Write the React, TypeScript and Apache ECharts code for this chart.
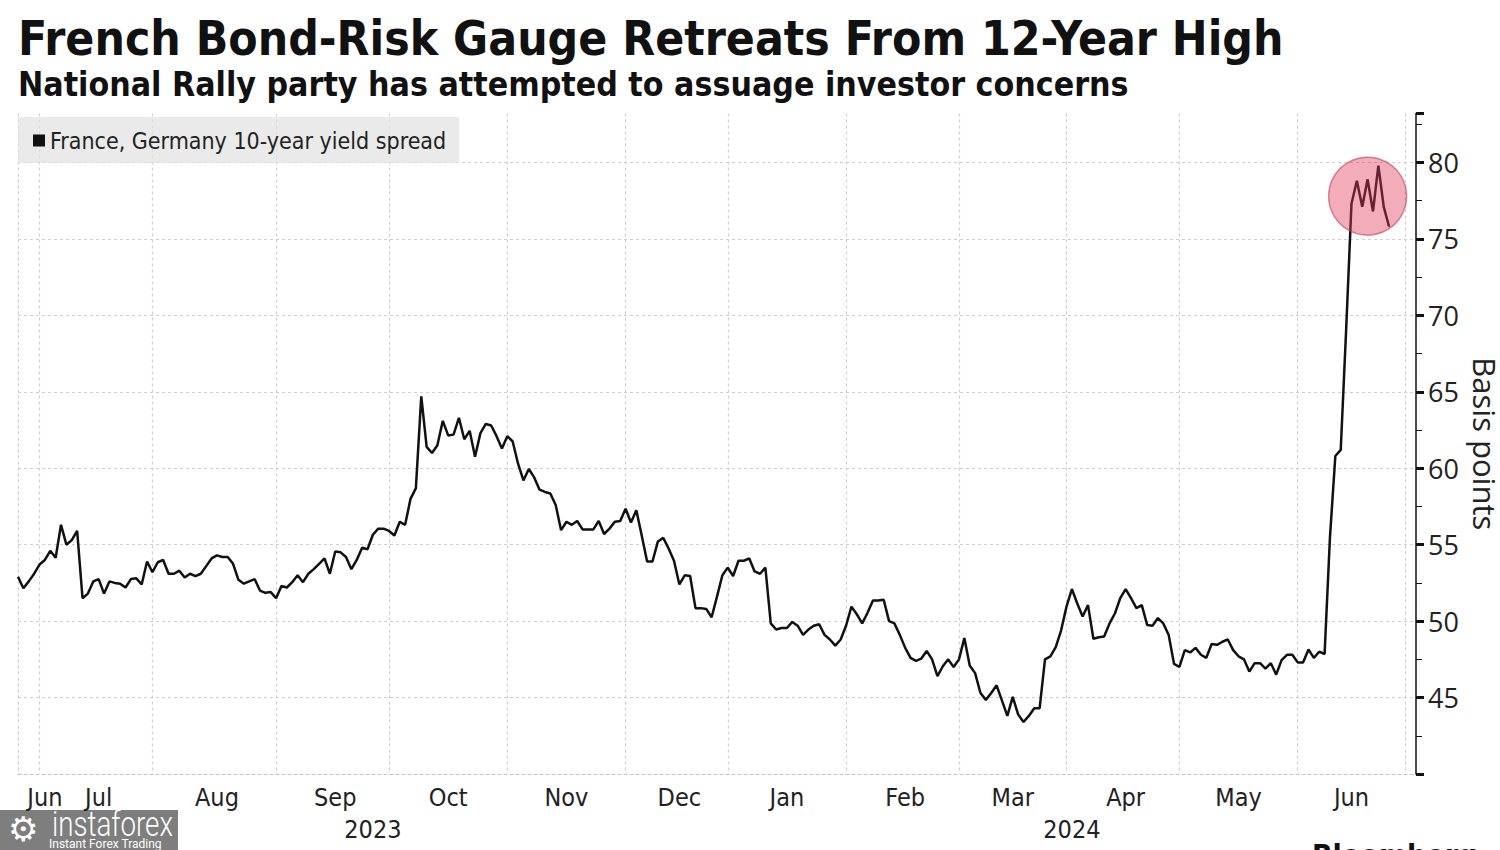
import React, { useEffect, useRef } from "react";
import * as echarts from "echarts";

// ---- data (basis points, one value per trading day) ----
const jun2023 = [52.9, 52.15, 52.6, 53.1];
const jul2023 = [53.7, 54.0, 54.6, 54.15, 56.3, 55.0, 55.3, 55.9, 51.5, 51.8, 52.6, 52.75, 51.8, 52.6, 52.5, 52.45, 52.2, 52.75, 52.8, 52.4, 53.9];
const aug2023 = [53.2, 53.85, 54.0, 53.1, 53.1, 53.3, 52.85, 53.1, 52.95, 53.1, 53.6, 54.1, 54.3, 54.2, 54.2, 53.75, 52.7, 52.45, 52.6, 52.75, 52.0, 51.85, 51.9];
const sep2023 = [51.5, 52.3, 52.2, 52.55, 53.0, 52.55, 53.1, 53.4, 53.75, 54.1, 53.1, 54.55, 54.5, 54.2, 53.4, 54.0, 54.8, 54.7, 55.65, 56.05, 56.05];
const oct2023 = [55.9, 55.6, 56.5, 56.3, 58.0, 58.7, 64.7, 61.4, 61.0, 61.5, 63.1, 62.15, 62.2, 63.3, 61.9, 62.45, 60.75, 62.3, 62.9, 62.8, 62.1, 61.3];
const nov2023 = [62.1, 61.75, 60.3, 59.2, 59.95, 59.4, 58.6, 58.45, 58.35, 57.6, 55.95, 56.5, 56.3, 56.55, 56.0, 56.0, 56.0, 56.55, 55.7, 56.05, 56.5, 56.55];
const dec2023 = [57.35, 56.45, 57.25, 55.6, 53.9, 53.9, 55.2, 55.45, 54.75, 53.95, 52.4, 53.0, 52.95, 50.85, 50.85, 50.8, 50.25, 51.6, 53.0];
const jan2024 = [53.5, 52.95, 53.95, 53.95, 54.1, 53.25, 53.1, 53.5, 49.85, 49.45, 49.55, 49.55, 49.95, 49.7, 49.1, 49.45, 49.7, 49.8, 49.1, 48.8, 48.4, 48.8];
const feb2024 = [49.7, 50.95, 50.45, 49.85, 50.55, 51.35, 51.35, 51.4, 50.0, 49.85, 49.1, 48.25, 47.6, 47.4, 47.55, 48.05, 47.5, 46.4, 47.05, 47.5, 47.0];
const mar2024 = [47.5, 48.9, 47.1, 46.6, 45.3, 44.85, 45.3, 45.8, 44.8, 43.8, 45.05, 43.9, 43.4, 43.8, 44.3, 44.3, 47.5, 47.7, 48.3, 49.4];
const apr2024 = [50.95, 52.1, 51.15, 50.3, 51.05, 48.85, 48.95, 49.0, 49.85, 50.5, 51.5, 52.1, 51.5, 50.85, 51.05, 49.75, 49.7, 50.2, 49.85, 49.1, 47.2];
const may2024 = [47.0, 48.1, 47.95, 48.25, 47.8, 47.6, 48.5, 48.45, 48.65, 48.8, 48.1, 47.7, 47.5, 46.7, 47.25, 47.25, 46.9, 47.25, 46.5, 47.45, 47.8, 47.8];
const jun2024 = [47.3, 47.3, 48.15, 47.6, 48.0, 47.85, 55.5, 60.8, 61.2, 69.0, 77.3, 78.8, 77.1, 78.9, 76.8, 79.8, 77.1, 75.8];

const spread = [
  ...jun2023, ...jul2023, ...aug2023, ...sep2023, ...oct2023, ...nov2023,
  ...dec2023, ...jan2024, ...feb2024, ...mar2024, ...apr2024, ...may2024, ...jun2024,
];

// trading-day calendar (category axis)
const calendarStart = "2023-06-27";
const calendarEnd = "2024-07-03";
const holidays = ["2023-12-25", "2023-12-26", "2024-01-01", "2024-03-29", "2024-04-01", "2024-05-01"];
const monthNames = ["Jan", "Feb", "Mar", "Apr", "May", "Jun", "Jul", "Aug", "Sep", "Oct", "Nov", "Dec"];
const yearLabels = ["2023", "2024"];
const yTickLabels = [45, 50, 55, 60, 65, 70, 75, 80];

const seriesName = "France, Germany 10-year yield spread";
const highlightDate = "2024-06-20";
const highlightValue = 77.8;

function buildDays(): string[] {
  const out: string[] = [];
  const d = new Date(calendarStart + "T00:00:00Z");
  const end = new Date(calendarEnd + "T00:00:00Z");
  while (d.getTime() <= end.getTime()) {
    const wd = d.getUTCDay();
    const s = d.toISOString().slice(0, 10);
    if (wd !== 0 && wd !== 6 && holidays.indexOf(s) < 0) out.push(s);
    d.setUTCDate(d.getUTCDate() + 1);
  }
  return out;
}

const FONT = "'DejaVu Sans Condensed', 'DejaVu Sans', sans-serif";
const NUMFONT = "'Open Sans', 'DejaVu Sans', sans-serif";

export default function App() {
  const ref = useRef<HTMLDivElement>(null);

  useEffect(() => {
    if (!ref.current) return;
    const chart = echarts.init(ref.current, undefined, { renderer: "svg" });
    const days = buildDays();

    // month groups
    const groups: { key: string; first: number; count: number }[] = [];
    days.forEach((s, i) => {
      const key = s.slice(0, 7);
      const g = groups[groups.length - 1];
      if (g && g.key === key) g.count++;
      else groups.push({ key, first: i, count: 1 });
    });
    const monthStart = new Set<number>(groups.map((g) => g.first));
    const labelMap: Record<number, string> = {};
    groups.forEach((g, gi) => {
      const m = parseInt(g.key.slice(5, 7), 10) - 1;
      if (gi === groups.length - 1 && g.count < 5) return; // trailing July stub
      let idx = g.first + Math.ceil(g.count / 2);
      if (gi === 0) idx = Math.max(idx, 5); // keep first label inside the axis
      labelMap[idx] = monthNames[m];
    });
    // year labels centred on each year's span
    const firstOf2024 = days.findIndex((s) => s.startsWith("2024"));
    labelMap[Math.round(firstOf2024 / 2)] = "\n" + yearLabels[0];
    labelMap[Math.round((firstOf2024 + days.length - 1) / 2)] = "\n" + yearLabels[1];

    const option: any = {
      animation: false,
      backgroundColor: "#ffffff",
      title: [
        {
          text: "French Bond-Risk Gauge Retreats From 12-Year High",
          left: 18, top: 14, padding: 0,
          textStyle: { fontSize: 47.6, fontWeight: "bold", color: "#111", fontFamily: FONT },
        },
        {
          text: "National Rally party has attempted to assuage investor concerns",
          left: 18, top: 67, padding: 0,
          textStyle: { fontSize: 33.6, fontWeight: "bold", color: "#111", fontFamily: FONT },
        },
      ],
      legend: {
        left: 18, top: 117,
        icon: "rect", itemWidth: 12, itemHeight: 12,
        padding: [12, 13, 11, 15],
        backgroundColor: "rgba(226,226,226,0.72)",
        textStyle: { fontSize: 23, color: "#222", fontFamily: FONT },
        data: [{ name: seriesName, itemStyle: { color: "#111" } }],
      },
      grid: { left: 18, right: 84, top: 113.6, bottom: 76, containLabel: false, outerBoundsMode: "none" },
      xAxis: {
        type: "category",
        data: days,
        boundaryGap: false,
        axisLine: { show: true, lineStyle: { color: "#c4c4c4", type: [3, 3], width: 1.2 } },
        axisTick: { show: false },
        splitLine: {
          show: true,
          interval: (i: number) => monthStart.has(i),
          lineStyle: { color: "#cfcfcf", type: [3, 3], width: 1.2 },
        },
        axisLabel: {
          interval: (i: number) => labelMap[i] !== undefined,
          formatter: (_v: string, i: number) => labelMap[i] || "",
          fontSize: 25, color: "#222", fontFamily: FONT, lineHeight: 32, margin: 7,
        },
      },
      yAxis: [
        {
          type: "value", position: "right", min: 40, max: 83.2, interval: 5,
          axisLine: { show: true, lineStyle: { color: "#111", width: 1.5 } },
          axisTick: { show: true, length: 8, lineStyle: { color: "#111", width: 3 } },
          axisLabel: {
            formatter: (v: number) => (yTickLabels.indexOf(v) >= 0 ? String(v) : ""),
            fontSize: 27, color: "#222", fontFamily: NUMFONT, margin: 12,
          },
          splitLine: {
            show: true, showMinLine: false, showMaxLine: false,
            lineStyle: { color: "#cfcfcf", type: [3, 3], width: 1.2 },
          },
          name: "Basis points", nameLocation: "middle", nameRotate: -90, nameGap: 40,
          nameTextStyle: { fontSize: 31, color: "#222", fontFamily: NUMFONT },
        },
        {
          type: "value", position: "right", min: 40, max: 83.2, interval: 2.5,
          axisLine: { show: false },
          axisTick: { show: true, length: 6, lineStyle: { color: "#111", width: 1 } },
          axisLabel: { show: false },
          splitLine: { show: false },
        },
      ],
      series: [
        {
          name: seriesName,
          type: "line",
          data: spread,
          showSymbol: false,
          symbol: "none",
          lineStyle: { color: "#111", width: 2.5 },
          itemStyle: { color: "#111" },
          markPoint: {
            silent: true,
            symbol: "circle",
            symbolSize: 78,
            itemStyle: { color: "rgba(226,60,90,0.42)", borderColor: "rgba(190,50,75,0.55)", borderWidth: 1.5 },
            label: { show: false },
            data: [{ coord: [highlightDate, highlightValue] }],
          },
        },
      ],
      graphic: [
        {
          type: "group", left: 0, top: 806,
          children: [
            { type: "rect", shape: { x: 0, y: 0, width: 178, height: 44 }, style: { fill: "#7e7e7e" } },
            { type: "text", x: 8, y: 2, style: { text: "⚙", fill: "#ffffff", fontSize: 34, fontFamily: "'DejaVu Sans', sans-serif" } },
            { type: "text", x: 52, y: -4, scaleX: 0.77, style: { text: "instaforex", fill: "#ffffff", fontSize: 36, fontFamily: "Roboto, sans-serif", fontWeight: 300 } },
            { type: "text", x: 49, y: 28, style: { text: "Instant Forex Trading", fill: "#ffffff", fontSize: 12, fontFamily: "Roboto, sans-serif" } },
          ],
        },
        {
          type: "text", left: 1312, top: 840,
          style: { text: "Bloomberg", fill: "#111", fontSize: 30, fontWeight: "bold", fontFamily: FONT },
        },
      ],
    };

    chart.setOption(option);
    return () => chart.dispose();
  }, []);

  return (
    <div
      ref={ref}
      style={{ position: "fixed", left: 0, top: 0, width: 1500, height: 850, background: "#fff" }}
    />
  );
}
